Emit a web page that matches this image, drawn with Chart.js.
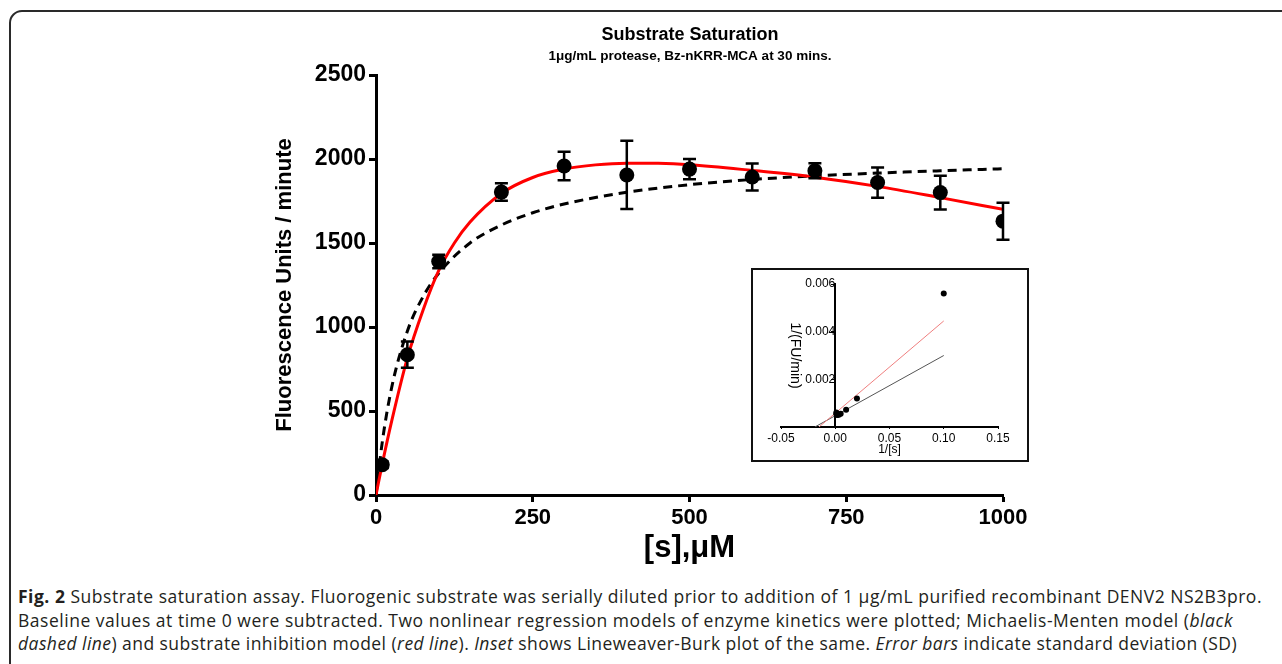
<!DOCTYPE html>
<html><head><meta charset="utf-8">
<script src="https://cdn.jsdelivr.net/npm/chart.js@4.4.1/dist/chart.umd.min.js"></script>
<style>
html,body{margin:0;padding:0;background:#fff;width:1282px;height:664px;overflow:hidden;}
#frame{position:absolute;left:9px;top:10px;width:1320px;height:720px;border:2px solid #2a2a2a;border-radius:13px;box-sizing:border-box;}
#main{position:absolute;left:0;top:0;}
#insetBox{position:absolute;left:751px;top:268px;width:278px;height:194px;border:2px solid #111;box-sizing:border-box;background:#fff;}
#inset{position:absolute;left:0;top:0;}
#caption{position:absolute;left:18px;top:585px;font-family:"Open Sans";font-size:17.5px;line-height:23.5px;color:#231f20;white-space:nowrap;}
#caption div{height:23.5px;}
</style></head>
<body>
<div id="frame"></div>
<canvas id="main" width="1282" height="575"></canvas>
<div id="insetBox"><canvas id="inset" width="274" height="190"></canvas></div>
<div id="caption">
<div data-w="1244"><b>Fig. 2</b> Substrate saturation assay. Fluorogenic substrate was serially diluted prior to addition of 1 μg/mL purified recombinant DENV2 NS2B3pro.</div>
<div data-w="1215">Baseline values at time 0 were subtracted. Two nonlinear regression models of enzyme kinetics were plotted; Michaelis-Menten model (<i>black</i></div>
<div data-w="1219"><i>dashed line</i>) and substrate inhibition model (<i>red line</i>). <i>Inset</i> shows Lineweaver-Burk plot of the same. <i>Error bars</i> indicate standard deviation (SD)</div>
</div>
<script>
// ---- Main chart data ----
const substrate = [10, 50, 100, 200, 300, 400, 500, 600, 700, 800, 900, 1000];
const rate      = [180, 835, 1390, 1803, 1958, 1905, 1940, 1893, 1930, 1860, 1800, 1630];
const rateSD    = [20, 78, 40, 52, 85, 203, 60, 80, 45, 90, 100, 110];

// Michaelis-Menten fit (black dashed)
const mmX = [0, 10, 25, 50, 75, 100, 150, 200, 250, 300, 400, 500, 600, 700, 800, 900, 1000];
const mmY = [0, 315, 640, 975, 1180, 1320, 1500, 1607, 1680, 1732, 1802, 1847, 1878, 1900, 1916, 1930, 1942];

// Substrate inhibition fit (red)
const siX = [0, 10, 25, 50, 75, 100, 125, 150, 200, 250, 300, 350, 400, 450, 500, 600, 700, 800, 900, 1000];
const siY = [0, 185, 440, 815, 1100, 1335, 1500, 1625, 1795, 1890, 1940, 1965, 1975, 1974, 1966, 1932, 1892, 1837, 1770, 1700];

const xTicks = [0, 250, 500, 750, 1000];
const yTicks = [0, 500, 1000, 1500, 2000, 2500];

const titleText = "Substrate Saturation";
const subtitleText = "1\u03BCg/mL protease, Bz-nKRR-MCA at 30 mins.";
const xTitle = "[s],\u03BCM";
const yTitle = "Fluorescence Units / minute";

// ---- Inset (Lineweaver-Burk) data ----
const invS = [0.1, 0.02, 0.01, 0.005, 0.00333, 0.0025, 0.002, 0.00167, 0.00143, 0.00125, 0.00111, 0.001];
const invV = [0.0056, 0.00120, 0.00072, 0.000555, 0.00051, 0.000525, 0.000515, 0.000528, 0.000518, 0.000538, 0.000555, 0.000613];
const lbRedX = [-0.015, 0.1];
const lbRedY = [0, 0.00445];
const lbBlackX = [-0.0188, 0.1];
const lbBlackY = [0, 0.0030];
const insetXTicks = [-0.05, 0, 0.05, 0.10, 0.15];
const insetYTicks = [0.002, 0.004, 0.006];

const FONT = 'Arial, "Liberation Sans", sans-serif';
const zip = (xs, ys) => xs.map((x, i) => ({x, y: ys[i]}));

// fit caption lines to the reference widths
document.querySelectorAll('#caption div').forEach(d => {
  const target = +d.dataset.w;
  const span = document.createElement('span');
  span.innerHTML = d.innerHTML; d.innerHTML = ''; d.appendChild(span);
  const w = span.getBoundingClientRect().width;
  const n = span.textContent.length;
  d.style.letterSpacing = ((target - w) / n).toFixed(3) + 'px';
});

const errorBars = {
  id: 'errorBars',
  beforeDatasetDraw(chart, args) {
    if (args.index !== 0) return;
    const {ctx, scales: {x, y}} = chart;
    ctx.save();
    ctx.strokeStyle = '#000';
    ctx.lineWidth = 2.5;
    substrate.forEach((s, i) => {
      const px = x.getPixelForValue(s);
      const top = y.getPixelForValue(rate[i] + rateSD[i]);
      const bot = y.getPixelForValue(rate[i] - rateSD[i]);
      ctx.beginPath();
      ctx.moveTo(px, top); ctx.lineTo(px, bot);
      ctx.moveTo(px - 6.5, top); ctx.lineTo(px + 6.5, top);
      ctx.moveTo(px - 6.5, bot); ctx.lineTo(px + 6.5, bot);
      ctx.stroke();
    });
    ctx.restore();
  }
};

const titles = {
  id: 'titles',
  afterDraw(chart) {
    const ctx = chart.ctx;
    ctx.save();
    ctx.fillStyle = '#000';
    ctx.textAlign = 'center';
    ctx.textBaseline = 'middle';
    ctx.font = 'bold 18px ' + FONT;
    ctx.fillText(titleText, 690, 35);
    ctx.font = 'bold 13.5px ' + FONT;
    ctx.fillText(subtitleText, 690, 56);
    ctx.restore();
  }
};

new Chart(document.getElementById('main'), {
  type: 'scatter',
  data: {
    datasets: [
      {label: 'Data', data: zip(substrate, rate), order: 0, pointRadius: 7.5, pointHoverRadius: 7.5,
       backgroundColor: '#000', borderColor: '#000', pointBorderWidth: 0},
      {label: 'Substrate inhibition', data: zip(siX, siY), order: 1, showLine: true, pointRadius: 0,
       borderColor: '#ff0000', borderWidth: 3, cubicInterpolationMode: 'monotone', fill: false},
      {label: 'Michaelis-Menten', data: zip(mmX, mmY), order: 2, showLine: true, pointRadius: 0,
       borderColor: '#000', borderWidth: 3, borderDash: [9, 6], cubicInterpolationMode: 'monotone', fill: false}
    ]
  },
  options: {
    responsive: false,
    animation: false,
    layout: {padding: {left: 270, right: 279, top: 75, bottom: 10}},
    plugins: {legend: {display: false}, tooltip: {enabled: false}},
    scales: {
      x: {
        type: 'linear', min: 0, max: 1000,
        afterFit(s) { s.height = 70; },
        afterBuildTicks(s) { s.ticks = xTicks.map(v => ({value: v})); },
        border: {display: true, width: 3, color: '#000'},
        grid: {drawOnChartArea: false, drawTicks: true, tickLength: 7, tickWidth: 3, tickColor: '#000'},
        ticks: {color: '#000', padding: 3, font: {family: FONT, size: 22, weight: 'bold'},
                callback: v => String(v)},
        title: {display: true, text: xTitle, color: '#000', padding: {top: 0, bottom: -2},
                font: {family: FONT, size: 31, weight: 'bold'}}
      },
      y: {
        type: 'linear', min: 0, max: 2500,
        afterFit(s) { s.width = 106; },
        afterBuildTicks(s) { s.ticks = yTicks.map(v => ({value: v})); },
        border: {display: true, width: 3, color: '#000'},
        grid: {drawOnChartArea: false, drawTicks: true, tickLength: 7, tickWidth: 3, tickColor: '#000'},
        ticks: {color: '#000', padding: 3, font: {family: FONT, size: 23, weight: 'bold'},
                callback: v => String(v)},
        title: {display: true, text: yTitle, color: '#000', padding: {top: 2, bottom: 0},
                font: {family: FONT, size: 22, weight: 'bold'}}
      }
    }
  },
  plugins: [errorBars, titles]
});

new Chart(document.getElementById('inset'), {
  type: 'scatter',
  data: {
    datasets: [
      {label: 'Reciprocal data', data: zip(invS, invV), order: 0, pointRadius: 3, pointHoverRadius: 3,
       backgroundColor: '#000', borderColor: '#000', pointBorderWidth: 0},
      {label: 'Inhibition fit', data: zip(lbRedX, lbRedY), order: 1, showLine: true, pointRadius: 0,
       borderColor: '#ef7f7f', borderWidth: 1},
      {label: 'MM fit', data: zip(lbBlackX, lbBlackY), order: 2, showLine: true, pointRadius: 0,
       borderColor: '#555', borderWidth: 1}
    ]
  },
  options: {
    responsive: false,
    animation: false,
    layout: {padding: {left: 28, right: 29, top: 14, bottom: 0}},
    plugins: {legend: {display: false}, tooltip: {enabled: false}},
    scales: {
      x: {
        type: 'linear', min: -0.05, max: 0.15,
        afterFit(s) { s.height = 33; },
        afterBuildTicks(s) { s.ticks = insetXTicks.map(v => ({value: v})); },
        border: {display: true, width: 2, color: '#000'},
        grid: {drawOnChartArea: false, drawTicks: true, tickLength: 2, tickWidth: 1, tickColor: '#000'},
        ticks: {color: '#000', padding: 2, font: {family: FONT, size: 12},
                callback: v => v.toFixed(2)},
        title: {display: true, text: '1/[s]', color: '#000', padding: {top: 0, bottom: 3},
                font: {family: FONT, size: 12}}
      },
      y: {
        type: 'linear', min: 0, max: 0.006, position: {x: 0},
        afterBuildTicks(s) { s.ticks = insetYTicks.map(v => ({value: v})); },
        border: {display: true, width: 2, color: '#000'},
        grid: {drawOnChartArea: false, drawTicks: true, tickLength: 3, tickWidth: 1, tickColor: '#000'},
        ticks: {color: '#000', padding: 2, font: {family: FONT, size: 12},
                callback: v => v.toFixed(3)},
        title: {display: true, text: '1/(FU/min)', color: '#000', padding: {top: -5, bottom: 5},
                font: {family: FONT, size: 14}}
      }
    }
  }
});
</script>
</body></html>
